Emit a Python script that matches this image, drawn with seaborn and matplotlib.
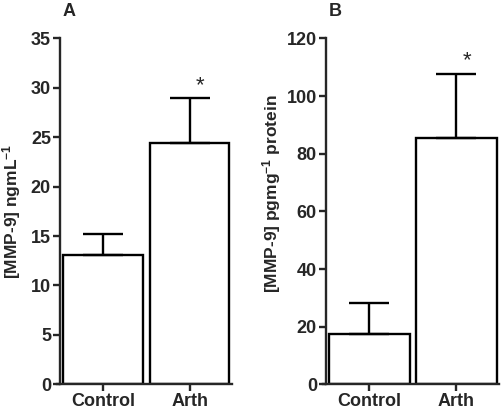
import matplotlib
matplotlib.use("Agg")
import matplotlib.pyplot as plt
import seaborn as sns
import pandas as pd

categories = ["Control", "Arth"]
serum_mean = [13.1, 24.4]
serum_sem = [2.1, 4.55]
tissue_mean = [17.4, 85.5]
tissue_sem = [10.7, 22.2]
serum_ticks = [0, 5, 10, 15, 20, 25, 30, 35]
tissue_ticks = [0, 20, 40, 60, 80, 100, 120]

sns.set_style("ticks")
plt.rcParams['font.family'] = ['Liberation Sans', 'DejaVu Sans']
plt.rcParams['mathtext.fontset'] = 'custom'
plt.rcParams['mathtext.rm'] = 'Liberation Sans:bold'
plt.rcParams['mathtext.it'] = 'Liberation Sans:bold'
plt.rcParams['mathtext.bf'] = 'Liberation Sans:bold'

fig = plt.figure(figsize=(5.02, 4.09), dpi=100)
axA = fig.add_axes([0.1195, 0.0604, 0.3445, 0.8456])
axB = fig.add_axes([0.6494, 0.0604, 0.3466, 0.8456])

LW = 1.7

def panel(ax, means, sems, ticks, ylabel, letter, star_off, label_y, label_x):
    df = pd.DataFrame({"group": categories, "value": means})
    sns.barplot(data=df, x="group", y="value", ax=ax, color="white",
                edgecolor="black", linewidth=LW, width=0.92, errorbar=None,
                saturation=1)
    ax.errorbar(range(len(categories)), means, yerr=[[0]*len(sems), sems],
                fmt="none", ecolor="black", elinewidth=LW, capsize=14.5,
                capthick=LW, zorder=1)
    ax.set_xlim(-0.5, 1.5)
    ax.set_ylim(ticks[0], ticks[-1])
    ax.set_yticks(ticks)
    ax.set_xlabel("")
    ax.set_ylabel(ylabel, fontsize=12.5, fontweight="bold")
    ax.yaxis.set_label_coords(label_x, label_y)
    for s in ["top", "right"]:
        ax.spines[s].set_visible(False)
    for s in ["left", "bottom"]:
        ax.spines[s].set_linewidth(LW)
    ax.tick_params(axis="both", width=LW, length=5, direction="out",
                   labelsize=13, pad=1.5)
    for lbl in ax.get_xticklabels() + ax.get_yticklabels():
        lbl.set_fontweight("bold")
    ax.spines["bottom"].set_bounds(-0.53, 1.49)
    top = means[1] + sems[1]
    ax.text(1.12, top + star_off, "*", ha="center", va="bottom",
            fontsize=16)
    ax.text(0.015, 1.052, letter, transform=ax.transAxes, ha="left",
            va="bottom", fontsize=13, fontweight="bold")

panel(axA, serum_mean, serum_sem, serum_ticks,
      "[MMP-9] ngmL$^{-1}$", "A", 0.2, 0.5, -0.215)
panel(axB, tissue_mean, tissue_sem, tissue_ticks,
      "[MMP-9] pgmg$^{-1}$ protein", "B", 0.8, 0.55, -0.245)

fig.savefig("out.png", dpi=100)
